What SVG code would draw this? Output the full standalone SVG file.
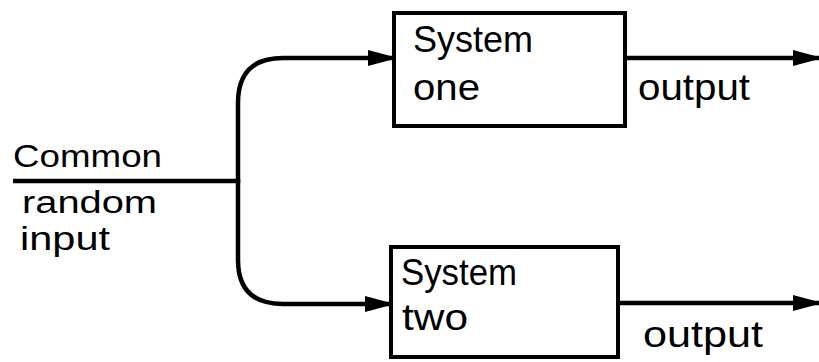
<svg xmlns="http://www.w3.org/2000/svg" width="819" height="362" viewBox="0 0 819 362">
<style>
.box{fill:#fff;stroke:#000;stroke-width:4}
.ln{fill:none;stroke:#000;stroke-width:4.5}
.t{font-family:"Liberation Sans",Arial,sans-serif;fill:#000}
.big{font-size:36px}
.sm{font-size:31px}
</style>
<defs>
<marker id="arr" viewBox="0 0 26 18" refX="26" refY="9" markerWidth="26" markerHeight="18" markerUnits="userSpaceOnUse" orient="auto">
<path d="M0,1 L26,8 L26,10 L0,17 z" fill="#000"/>
</marker>
</defs>
<rect width="819" height="362" fill="#fff"/>
<g id="connectors">
<path class="ln" d="M13,181 H238"/>
<path class="ln" d="M238,183 V103 Q238,58 283,58 H394" marker-end="url(#arr)"/>
<path class="ln" d="M238,179 V260 Q238,304 283,304 H391" marker-end="url(#arr)"/>
<path class="ln" d="M625,58 H819" marker-end="url(#arr)"/>
<path class="ln" d="M618,303 H819" marker-end="url(#arr)"/>
</g>
<g id="input-label">
<text class="t sm" x="13" y="167" textLength="149" lengthAdjust="spacingAndGlyphs">Common</text>
<text class="t sm" x="22" y="213" textLength="135" lengthAdjust="spacingAndGlyphs">random</text>
<text class="t" style="font-size:34px" x="20" y="250" textLength="90" lengthAdjust="spacingAndGlyphs">input</text>
</g>
<g id="system-one">
<rect class="box" x="394" y="13" width="231" height="113"/>
<text class="t big" x="413" y="52" textLength="120" lengthAdjust="spacingAndGlyphs">System</text>
<text class="t big" x="413" y="100" textLength="67" lengthAdjust="spacingAndGlyphs">one</text>
</g>
<g id="system-two">
<rect class="box" x="391" y="247" width="227" height="110"/>
<text class="t big" x="401" y="285" textLength="116" lengthAdjust="spacingAndGlyphs">System</text>
<text class="t big" x="402" y="330" textLength="66" lengthAdjust="spacingAndGlyphs">two</text>
</g>
<g id="output-one">
<text class="t big" x="638" y="100" textLength="112" lengthAdjust="spacingAndGlyphs">output</text>
</g>
<g id="output-two">
<text class="t big" x="643" y="347" textLength="120" lengthAdjust="spacingAndGlyphs">output</text>
</g>
</svg>
